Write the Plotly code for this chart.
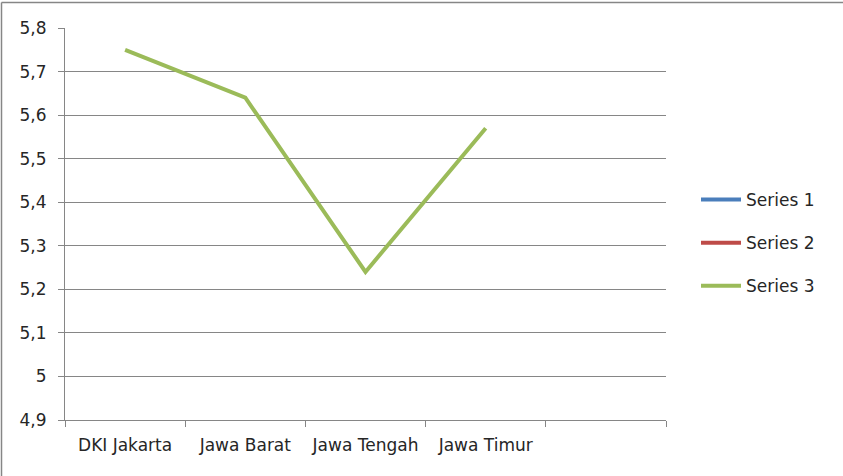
import plotly.graph_objects as go

categories = ["DKI Jakarta", "Jawa Barat", "Jawa Tengah", "Jawa Timur"]
series1 = [None, None, None, None]
series2 = [None, None, None, None]
series3 = [5.75, 5.64, 5.24, 5.57]
y_ticks = [4.9, 5.0, 5.1, 5.2, 5.3, 5.4, 5.5, 5.6, 5.7, 5.8]
y_labels = ["4,9", "5", "5,1", "5,2", "5,3", "5,4", "5,5", "5,6", "5,7", "5,8"]

x_pos = list(range(len(categories)))
FONT = "DejaVu Sans, sans-serif"

fig = go.Figure()
for name, vals, color, grp in [("Series 1", series1, "#4A7EBB", "a"),
                               ("Series 2", series2, "#BE4B48", "b"),
                               ("Series 3", series3, "#9BBB59", "c")]:
    fig.add_trace(go.Scatter(x=x_pos, y=vals, mode="lines", name=name,
                             legendgroup=grp,
                             line=dict(color=color, width=4)))

W, H = 843, 476
L, R, T, B = 65, 177, 28, 56
pw, ph = W - L - R, H - T - B

fig.update_layout(
    width=W, height=H,
    margin=dict(l=L, r=R, t=T, b=B),
    paper_bgcolor="white", plot_bgcolor="white",
    font=dict(family=FONT, size=17, color="#262626"),
    showlegend=True,
    legend=dict(x=(696 - L) / pw, y=1 - (182 - T) / ph, xanchor="left", yanchor="top",
                tracegroupgap=18, font=dict(size=17), itemwidth=40,
                bgcolor="rgba(0,0,0,0)"),
    xaxis=dict(range=[-0.5, 4.5], tickvals=x_pos, ticktext=categories,
               showgrid=False, zeroline=False, ticks="",
               ticklabelstandoff=10,
               showline=True, linecolor="#868686", linewidth=1,
               minor=dict(tickvals=[-0.5, 0.5, 1.5, 2.5, 3.5, 4.5], ticks="outside",
                          ticklen=6, tickcolor="#868686", showgrid=False),
               fixedrange=True),
    yaxis=dict(range=[4.9, 5.8], tickvals=y_ticks, ticktext=y_labels,
               showgrid=True, gridcolor="#868686", gridwidth=1,
               zeroline=False, ticks="outside", ticklen=6, tickcolor="#868686",
               ticklabelstandoff=8,
               showline=True, linecolor="#868686", linewidth=1,
               fixedrange=True),
    shapes=[
        dict(type="line", xref="paper", yref="paper",
             x0=(1.5 - L) / pw, x1=(W + 5 - L) / pw,
             y0=1 + (T - 2.5) / ph, y1=1 + (T - 2.5) / ph,
             line=dict(color="#868686", width=1.5)),
        dict(type="line", xref="paper", yref="paper",
             x0=(1.5 - L) / pw, x1=(1.5 - L) / pw,
             y0=1 + (T - 2.5) / ph, y1=-(B + 5) / ph,
             line=dict(color="#868686", width=1.5)),
    ],
)

fig.write_html("out.html")
